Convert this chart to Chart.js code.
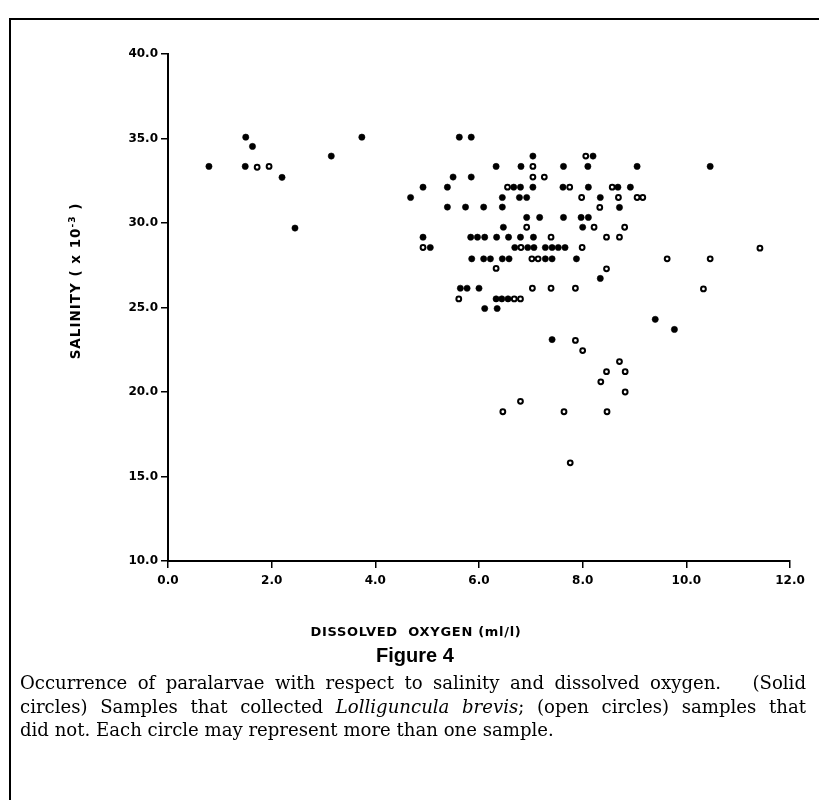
<!DOCTYPE html>
<html lang="en">
<head>
    <meta charset="UTF-8">
    <title>Figure 4 - Salinity vs dissolved oxygen</title>
    <script src="https://cdn.jsdelivr.net/npm/chart.js@4.4.0/dist/chart.umd.min.js"></script>
    <style>
        body {
            margin: 0;
            background: #fff;
        }

        .page {
            position: relative;
            width: 819px;
            height: 800px;
            overflow: hidden;
        }

        .frame {
            position: absolute;
            left: 9px;
            top: 18px;
            width: 820px;
            height: 800px;
            border-top: 2px solid #000;
            border-left: 2px solid #000;
        }

        #chart {
            position: absolute;
            left: 0;
            top: 0;
        }

        .axis-title {
            position: absolute;
            font-family: 'DejaVu Sans', sans-serif;
            font-weight: bold;
            font-size: 13px;
            letter-spacing: 0.7px;
            white-space: nowrap;
            color: #000;
        }

        .x-title {
            left: 216px;
            width: 400px;
            top: 624px;
            text-align: center;
        }

        .y-title {
            left: -125px;
            width: 400px;
            top: 273px;
            text-align: center;
            font-size: 13.5px;
            letter-spacing: 1px;
            transform: rotate(-90deg);
        }

        .y-title sup {
            font-size: 9px;
            vertical-align: 5px;
        }

        .fig-title {
            position: absolute;
            left: 0;
            width: 830px;
            top: 643px;
            text-align: center;
            font-family: 'Liberation Sans', Arial, sans-serif;
            font-weight: bold;
            font-size: 20px;
            line-height: 24px;
        }

        .caption {
            position: absolute;
            left: 20px;
            top: 671px;
            width: 786px;
            font-family: 'DejaVu Serif', serif;
            font-size: 18.1px;
            line-height: 23.5px;
            color: #000;
        }

        .caption .j {
            white-space: nowrap;
            text-align: justify;
            text-align-last: justify;
        }
    </style>
</head>
<body>
    <div class="page">
        <div class="frame"></div>
        <canvas id="chart" width="819" height="660"></canvas>
        <div class="axis-title x-title">DISSOLVED&nbsp; OXYGEN (ml/l)</div>
        <div class="axis-title y-title">SALINITY ( x 10<sup>-3</sup> )</div>
        <div class="fig-title">Figure 4</div>
        <div class="caption">
            <div class="j">Occurrence of paralarvae with respect to salinity and dissolved oxygen. &nbsp; (Solid</div>
            <div class="j">circles) Samples that collected <i>Lolliguncula brevis</i>; (open circles) samples that</div>
            <div>did not. Each circle may represent more than one sample.</div>
        </div>
    </div>

    <script>
        // solid circles: samples that collected L. brevis
        const solidX = [0.79, 1.50, 1.63, 1.49, 2.20, 2.45, 3.15, 3.74, 5.62, 5.85,
            7.04, 8.20, 6.33, 6.81, 7.63, 8.10, 9.05, 10.46, 5.50, 5.85,
            4.92, 5.39, 6.67, 6.80, 7.04, 7.62, 8.11, 8.68, 8.92,
            4.68, 6.45, 6.78, 6.92, 8.34,
            5.39, 5.74, 6.09, 6.45, 8.71,
            6.92, 7.17, 7.63, 7.97, 8.11,
            6.47, 8.00,
            4.92, 5.84, 5.97, 6.11, 6.34, 6.57, 6.80, 7.05,
            5.06, 6.69, 6.94, 7.06, 7.28, 7.41, 7.53, 7.66,
            5.86, 6.09, 6.22, 6.45, 6.58, 7.28, 7.41, 7.88,
            8.34, 5.64, 5.77, 6.00, 6.33, 6.44, 6.56, 6.11, 6.35,
            9.40, 9.77, 7.41];
        const solidY = [33.35, 35.08, 34.53, 33.35, 32.70, 29.70, 33.96, 35.08, 35.08, 35.08,
            33.96, 33.96, 33.35, 33.35, 33.35, 33.35, 33.35, 33.35, 32.72, 32.72,
            32.12, 32.12, 32.12, 32.12, 32.12, 32.12, 32.12, 32.12, 32.12,
            31.51, 31.51, 31.51, 31.51, 31.51,
            30.94, 30.94, 30.94, 30.94, 30.92,
            30.33, 30.33, 30.33, 30.33, 30.33,
            29.75, 29.75,
            29.16, 29.16, 29.16, 29.16, 29.16, 29.16, 29.16, 29.16,
            28.55, 28.55, 28.55, 28.55, 28.55, 28.55, 28.55, 28.55,
            27.88, 27.88, 27.88, 27.88, 27.88, 27.88, 27.88, 27.88,
            26.72, 26.14, 26.14, 26.14, 25.51, 25.51, 25.51, 24.94, 24.94,
            24.30, 23.70, 23.10];

        // open circles: samples that did not
        const openX = [1.72, 1.95, 8.06, 7.04, 7.04, 7.26, 6.55, 7.75, 8.57,
            7.98, 8.69, 9.05, 9.16, 8.33, 6.92, 8.22, 8.81, 7.39, 8.46, 8.71,
            4.92, 6.81, 7.99, 11.42, 7.02, 7.14, 9.63, 10.46, 6.33, 8.46,
            7.03, 7.39, 7.86, 10.33, 5.61, 6.68, 6.80,
            7.86, 8.00, 8.71, 8.46, 8.82, 8.35, 8.82, 6.80, 6.46, 7.64, 8.47, 7.76];
        const openY = [33.30, 33.35, 33.96, 33.35, 32.72, 32.72, 32.12, 32.12, 32.12,
            31.51, 31.51, 31.51, 31.51, 30.92, 29.75, 29.75, 29.75, 29.16, 29.16, 29.16,
            28.55, 28.55, 28.55, 28.51, 27.88, 27.88, 27.88, 27.88, 27.31, 27.29,
            26.14, 26.14, 26.14, 26.10, 25.51, 25.51, 25.51,
            23.05, 22.45, 21.80, 21.20, 21.20, 20.60, 20.00, 19.45, 18.83, 18.83, 18.83, 15.81];

        const xTicks = [0, 2, 4, 6, 8, 10, 12];
        const yTicks = [10, 15, 20, 25, 30, 35, 40];

        const solidPts = solidX.map((x, i) => ({ x: x, y: solidY[i] }));
        const openPts = openX.map((x, i) => ({ x: x, y: openY[i] }));

        const axisFont = { family: "'DejaVu Sans', sans-serif", size: 12, weight: 'bold' };

        const ctx = document.getElementById('chart').getContext('2d');
        new Chart(ctx, {
            type: 'scatter',
            data: {
                datasets: [{
                    label: 'Solid',
                    data: solidPts,
                    pointRadius: 3.1,
                    pointBackgroundColor: '#000',
                    pointBorderColor: '#000',
                    pointBorderWidth: 0.6
                }, {
                    label: 'Open',
                    data: openPts,
                    pointRadius: 2.4,
                    pointBackgroundColor: '#fff',
                    pointBorderColor: '#000',
                    pointBorderWidth: 2
                }]
            },
            options: {
                responsive: false,
                animation: false,
                layout: { padding: { left: 0, right: 29, top: 54, bottom: 0 } },
                plugins: {
                    legend: { display: false },
                    tooltip: { enabled: false }
                },
                scales: {
                    x: {
                        type: 'linear',
                        min: 0,
                        max: 12,
                        afterBuildTicks: s => { s.ticks = xTicks.map(v => ({ value: v })); },
                        afterFit: s => { s.height = 99; },
                        ticks: {
                            color: '#000',
                            font: axisFont,
                            padding: 6,
                            maxRotation: 0,
                            autoSkip: false,
                            callback: v => Number(v).toFixed(1)
                        },
                        grid: { drawOnChartArea: false, drawTicks: true, tickLength: 7, color: '#000', lineWidth: 1.5 },
                        border: { color: '#000', width: 2 }
                    },
                    y: {
                        type: 'linear',
                        min: 10,
                        max: 40,
                        afterBuildTicks: s => { s.ticks = yTicks.map(v => ({ value: v })); },
                        afterFit: s => { s.width = 168; },
                        ticks: {
                            color: '#000',
                            font: axisFont,
                            padding: 3,
                            autoSkip: false,
                            callback: v => Number(v).toFixed(1)
                        },
                        grid: { drawOnChartArea: false, drawTicks: true, tickLength: 7, color: '#000', lineWidth: 1.5 },
                        border: { color: '#000', width: 2 }
                    }
                }
            }
        });
    </script>
</body>
</html>
